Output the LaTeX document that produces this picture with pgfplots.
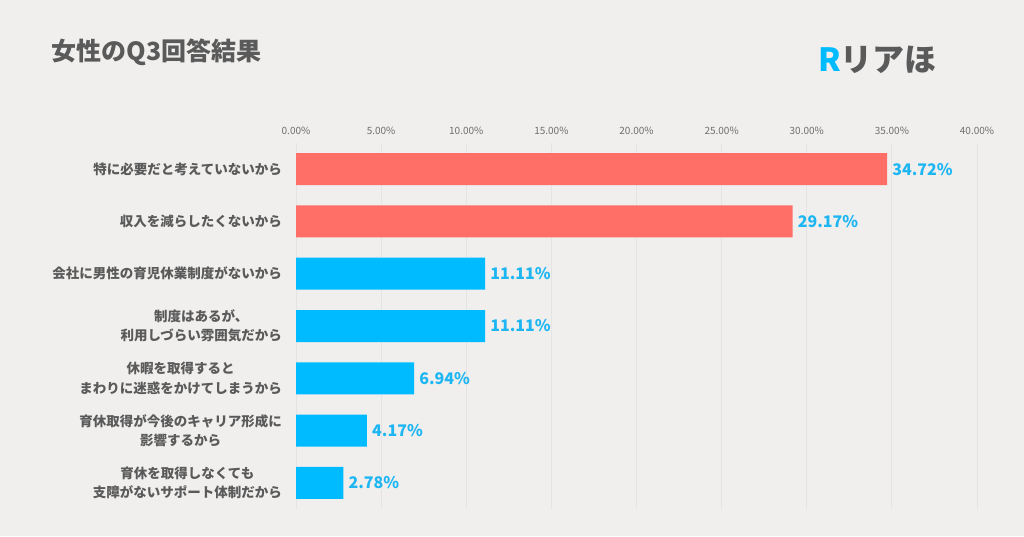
\documentclass[border=0pt]{standalone}
\usepackage{fontspec}
\setmainfont{Noto Sans CJK JP}
\usepackage{pgfplots}
\pgfplotsset{compat=1.18}

\definecolor{bg}{HTML}{F0EFEE}
\definecolor{barred}{HTML}{FF6F67}
\definecolor{barblue}{HTML}{00BBFF}
\definecolor{valblue}{HTML}{1EB6F2}
\definecolor{txtgrey}{HTML}{5A5A5A}
\definecolor{tickgrey}{HTML}{6E6E6E}
\definecolor{gridgrey}{HTML}{E4E4E4}

\begin{document}
\begin{tikzpicture}[x=1pt,y=1pt]
  \fill[bg] (0,0) rectangle (1024,536);
  % title and logo
  \node[anchor=west, text=txtgrey, font=\fontsize{25}{28}\selectfont\bfseries] at (48,484) {女性のQ3回答結果};
  \node[anchor=west, font=\fontsize{32}{34}\selectfont\bfseries, inner sep=0pt] at (818,476)
    {\textcolor{barblue}{R}\textcolor{txtgrey}{リアほ}};

  \begin{axis}[
    at={(296pt,27pt)}, anchor=south west,
    scale only axis, width=681pt, height=366pt,
    xbar, bar width=32pt,
    xmin=0, xmax=40,
    ymin=-0.5, ymax=6.5, y dir=reverse,
    axis line style={draw=none},
    major tick length=0pt,
    /pgf/number format/assume math mode=true,
    xtick={0,5,...,40},
    xticklabel pos=upper,
    xticklabel={\pgfmathprintnumber[fixed,fixed zerofill,precision=2]{\tick}\%},
    xticklabel style={font=\fontsize{10}{12}\selectfont, text=tickgrey, inner sep=0pt, yshift=8pt},
    xmajorgrids, grid style={gridgrey, line width=0.8pt},
    ytick={0,...,6},
    yticklabels={
      {特に必要だと考えていないから},
      {収入を減らしたくないから},
      {会社に男性の育児休業制度がないから},
      {制度はあるが、\\利用しづらい雰囲気だから},
      {休暇を取得すると\\まわりに迷惑をかけてしまうから},
      {育休取得が今後のキャリア形成に\\影響するから},
      {育休を取得しなくても\\支障がないサポート体制だから}},
    yticklabel style={font=\fontsize{13.5}{19.5}\selectfont\bfseries, text=txtgrey, align=center, inner sep=0pt, xshift=-14pt},
    nodes near coords={\pgfmathprintnumber[fixed,fixed zerofill,precision=2]{\pgfplotspointmeta}\%},
    nodes near coords style={font=\fontsize{16}{18}\selectfont\bfseries, text=valblue, anchor=west, inner sep=0pt, xshift=5pt},
    point meta=x,
  ]
    \addplot[fill=barred, draw=none, bar shift=0pt] coordinates {(34.72,0) (29.17,1)};
    \addplot[fill=barblue, draw=none, bar shift=0pt] coordinates {(11.11,2) (11.11,3) (6.94,4) (4.17,5) (2.78,6)};
  \end{axis}
  \pgfresetboundingbox
  \path (0,0) rectangle (1024,536);
\end{tikzpicture}
\end{document}
